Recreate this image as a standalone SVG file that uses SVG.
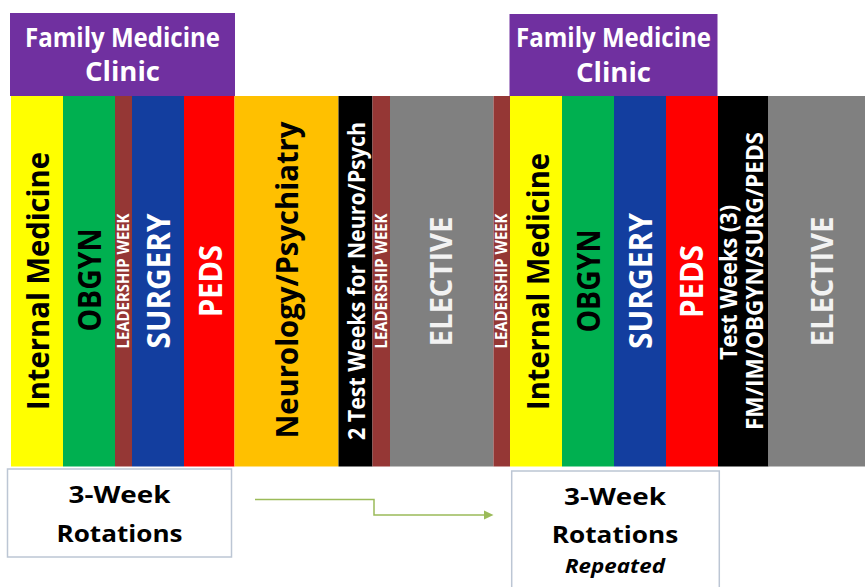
<svg xmlns="http://www.w3.org/2000/svg" width="865" height="587" viewBox="0 0 865 587">
<style>
text{font-family:"Open Sans","Liberation Sans",sans-serif;font-weight:bold;text-anchor:middle}
.w{fill:#ffffff}.k{fill:#000000}.lg{fill:#f2f2f2}
.clinic{fill:#7030a0}
.box{fill:#ffffff;stroke:#bcc6d4;stroke-width:1.5}
.conn{fill:none;stroke:#9bbb59;stroke-width:1.5}
</style>
<defs>
<marker id="ah" markerWidth="10" markerHeight="10" refX="0" refY="5" orient="auto" markerUnits="userSpaceOnUse">
<path d="M0,0.5 L9.5,5 L0,9.5 Z" fill="#9bbb59"/>
</marker>
</defs>
<rect width="865" height="587" fill="#ffffff"/>
<g id="fm-clinic-1"><rect class="clinic" x="10" y="13" width="225" height="83"/>
<text class="w" x="122.5" y="47" font-size="26.5" textLength="195" lengthAdjust="spacingAndGlyphs">Family Medicine</text>
<text class="w" x="122.5" y="81" font-size="26.5" textLength="75" lengthAdjust="spacingAndGlyphs">Clinic</text></g>
<g id="fm-clinic-2"><rect class="clinic" x="509.5" y="14" width="208" height="82"/>
<text class="w" x="613.5" y="47" font-size="26.5" textLength="195" lengthAdjust="spacingAndGlyphs">Family Medicine</text>
<text class="w" x="613.5" y="82" font-size="26.5" textLength="75" lengthAdjust="spacingAndGlyphs">Clinic</text></g>

<g id="im-1"><rect x="11" y="96" width="52" height="370.5" fill="#ffff00"/>
<text class="k" font-size="30.5" transform="translate(48.5,281) rotate(-90)" textLength="258" lengthAdjust="spacingAndGlyphs">Internal Medicine</text></g>
<g id="obgyn-1"><rect x="63" y="96" width="52" height="370.5" fill="#00b050"/>
<text class="k" font-size="33" transform="translate(101,280) rotate(-90)" textLength="103" lengthAdjust="spacingAndGlyphs">OBGYN</text></g>
<g id="lead-1"><rect x="115" y="96" width="17" height="370.5" fill="#953735"/>
<text class="w" font-size="16.5" transform="translate(129.3,281) rotate(-90)" textLength="135" lengthAdjust="spacingAndGlyphs">LEADERSHIP WEEK</text></g>
<g id="surgery-1"><rect x="132" y="96" width="52" height="370.5" fill="#133e9f"/>
<text class="w" font-size="32" transform="translate(170,281) rotate(-90)" textLength="135" lengthAdjust="spacingAndGlyphs">SURGERY</text></g>
<g id="peds-1"><rect x="184" y="96" width="50.5" height="370.5" fill="#ff0000"/>
<text class="w" font-size="32" transform="translate(221.7,281) rotate(-90)" textLength="72" lengthAdjust="spacingAndGlyphs">PEDS</text></g>
<g id="neuro"><rect x="234.5" y="96" width="104" height="370.5" fill="#ffc000"/>
<text class="k" font-size="30" transform="translate(298.3,280) rotate(-90)" textLength="317" lengthAdjust="spacingAndGlyphs">Neurology/Psychiatry</text></g>
<g id="test-neuro"><rect x="338.5" y="96" width="34" height="370.5" fill="#000000"/>
<text class="w" font-size="24" transform="translate(365.3,281) rotate(-90)" textLength="318" lengthAdjust="spacingAndGlyphs">2 Test Weeks for Neuro/Psych</text></g>
<g id="lead-2"><rect x="372.5" y="96" width="17.5" height="370.5" fill="#953735"/>
<text class="w" font-size="16.5" transform="translate(386.7,281) rotate(-90)" textLength="135" lengthAdjust="spacingAndGlyphs">LEADERSHIP WEEK</text></g>
<g id="elective-1"><rect x="390" y="96" width="103.5" height="370.5" fill="#808080"/>
<text class="lg" font-size="30" transform="translate(451.7,281.5) rotate(-90)" textLength="130" lengthAdjust="spacingAndGlyphs">ELECTIVE</text></g>
<g id="lead-3"><rect x="493.5" y="96" width="16.5" height="370.5" fill="#953735"/>
<text class="w" font-size="16.5" transform="translate(507.3,281) rotate(-90)" textLength="135" lengthAdjust="spacingAndGlyphs">LEADERSHIP WEEK</text></g>
<g id="im-2"><rect x="510" y="96" width="52" height="370.5" fill="#ffff00"/>
<text class="k" font-size="30.5" transform="translate(549.3,281.5) rotate(-90)" textLength="257" lengthAdjust="spacingAndGlyphs">Internal Medicine</text></g>
<g id="obgyn-2"><rect x="562" y="96" width="52" height="370.5" fill="#00b050"/>
<text class="k" font-size="33" transform="translate(600,281) rotate(-90)" textLength="103" lengthAdjust="spacingAndGlyphs">OBGYN</text></g>
<g id="surgery-2"><rect x="614" y="96" width="52" height="370.5" fill="#133e9f"/>
<text class="w" font-size="32" transform="translate(651.7,281) rotate(-90)" textLength="136" lengthAdjust="spacingAndGlyphs">SURGERY</text></g>
<g id="peds-2"><rect x="666" y="96" width="52" height="370.5" fill="#ff0000"/>
<text class="w" font-size="32" transform="translate(703.3,281.5) rotate(-90)" textLength="73" lengthAdjust="spacingAndGlyphs">PEDS</text></g>
<g id="test-weeks-3"><rect x="718" y="96" width="50.5" height="370.5" fill="#000000"/>
<text class="w" font-size="23" transform="translate(736.7,282.5) rotate(-90)" textLength="155" lengthAdjust="spacingAndGlyphs">Test Weeks (3)</text>
<text class="w" font-size="23" transform="translate(762.8,281) rotate(-90)" textLength="298" lengthAdjust="spacingAndGlyphs">FM/IM/OBGYN/SURG/PEDS</text></g>
<g id="elective-2"><rect x="768.5" y="96" width="96.5" height="370.5" fill="#808080"/>
<text class="lg" font-size="30" transform="translate(832.7,281.5) rotate(-90)" textLength="130" lengthAdjust="spacingAndGlyphs">ELECTIVE</text></g>

<g id="rotations"><rect class="box" x="7.5" y="469" width="224" height="88"/>
<text class="k" x="119.5" y="503.3" font-size="24" textLength="102" lengthAdjust="spacingAndGlyphs">3-Week</text>
<text class="k" x="119.5" y="541.7" font-size="24" textLength="126" lengthAdjust="spacingAndGlyphs">Rotations</text></g>
<g id="rotations-repeated"><rect class="box" x="511.7" y="471" width="207.6" height="130"/>
<text class="k" x="615" y="505" font-size="24" textLength="102" lengthAdjust="spacingAndGlyphs">3-Week</text>
<text class="k" x="615" y="543.3" font-size="24" textLength="126.5" lengthAdjust="spacingAndGlyphs">Rotations</text>
<text class="k" x="615" y="573.3" font-size="19.5" font-style="italic" textLength="100" lengthAdjust="spacingAndGlyphs">Repeated</text></g>

<g id="connectors">
<polyline class="conn" points="255,499.5 374,499.5 374,515 484,515" marker-end="url(#ah)"/>
</g>
</svg>
